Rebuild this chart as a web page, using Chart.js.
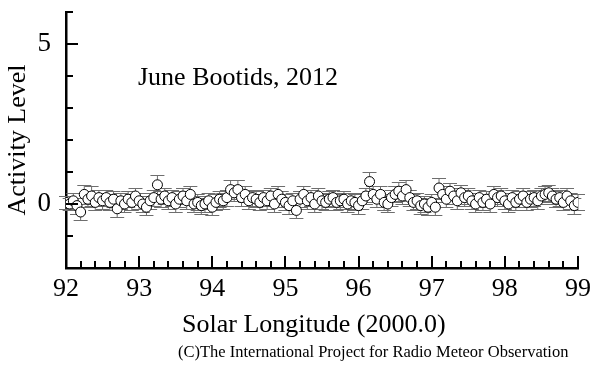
<!DOCTYPE html>
<html>
<head>
<meta charset="utf-8">
<script src="https://cdn.jsdelivr.net/npm/chart.js@4.4.1/dist/chart.umd.min.js"></script>
<style>
html,body{margin:0;padding:0;background:#fff;}
#wrap{width:599px;height:369px;position:relative;}
</style>
</head>
<body>
<div id="wrap"><canvas id="c" width="599" height="369"></canvas></div>
<script>
const solarLongitude = [
92.00,92.05,92.10,92.15,92.20,92.25,92.30,92.35,92.40,92.45,
92.50,92.55,92.60,92.65,92.70,92.75,92.80,92.85,92.90,92.95,
93.00,93.05,93.10,93.15,93.20,93.25,93.30,93.35,93.40,93.45,
93.50,93.55,93.60,93.65,93.70,93.75,93.80,93.85,93.90,93.95,
94.00,94.05,94.10,94.15,94.20,94.25,94.30,94.35,94.40,94.45,
94.50,94.55,94.60,94.65,94.70,94.75,94.80,94.85,94.90,94.95,
95.00,95.05,95.10,95.15,95.20,95.25,95.30,95.35,95.40,95.45,
95.50,95.55,95.60,95.65,95.70,95.75,95.80,95.85,95.90,95.95,
96.00,96.05,96.10,96.15,96.20,96.25,96.30,96.35,96.40,96.45,
96.50,96.55,96.60,96.65,96.70,96.75,96.80,96.85,96.90,96.95,
97.00,97.05,97.10,97.15,97.20,97.25,97.30,97.35,97.40,97.45,
97.50,97.55,97.60,97.65,97.70,97.75,97.80,97.85,97.90,97.95,
98.00,98.05,98.10,98.15,98.20,98.25,98.30,98.35,98.40,98.45,
98.50,98.55,98.60,98.65,98.70,98.75,98.80,98.85,98.90,98.95,
99.00
];
const activityLevel = [
0.05,0.00,0.10,-0.05,-0.25,0.30,0.15,0.25,0.05,0.20,
0.10,0.20,0.05,0.15,-0.15,0.10,0.00,0.15,0.05,0.25,
0.10,0.00,-0.10,0.10,0.20,0.60,0.15,0.25,0.10,0.20,
0.00,0.15,0.25,0.10,0.30,0.00,0.05,-0.05,0.00,0.10,
-0.10,0.05,0.15,0.10,0.20,0.45,0.35,0.45,0.20,0.30,
0.10,0.20,0.15,0.05,0.20,0.10,0.25,0.00,0.30,0.15,
0.05,-0.05,0.10,-0.20,0.15,0.30,0.10,0.20,0.00,0.25,
0.10,0.05,0.15,0.20,0.05,0.10,0.15,0.00,0.10,0.05,
-0.05,0.10,0.25,0.70,0.30,0.15,0.30,0.05,0.00,0.20,
0.30,0.40,0.25,0.45,0.20,0.05,0.10,-0.05,0.00,-0.10,
0.05,-0.10,0.50,0.30,0.15,0.40,0.25,0.10,0.35,0.20,
0.25,0.10,0.00,0.20,0.05,0.15,0.00,0.30,0.20,0.25,
0.10,0.00,0.20,0.05,0.15,0.25,0.05,0.15,0.20,0.10,
0.25,0.30,0.35,0.25,0.15,0.20,0.05,0.25,0.10,-0.05,
0.05
];
const errorSize = [
0.20,0.20,0.25,0.25,0.25,0.30,0.25,0.30,0.25,0.25,
0.25,0.25,0.25,0.25,0.25,0.25,0.25,0.25,0.25,0.25,
0.25,0.25,0.25,0.25,0.25,0.30,0.25,0.25,0.25,0.25,
0.25,0.25,0.25,0.25,0.25,0.25,0.25,0.25,0.25,0.25,
0.25,0.25,0.25,0.25,0.25,0.30,0.25,0.30,0.25,0.25,
0.25,0.25,0.25,0.25,0.25,0.25,0.25,0.25,0.25,0.25,
0.25,0.25,0.25,0.25,0.25,0.25,0.25,0.25,0.25,0.25,
0.25,0.25,0.25,0.25,0.25,0.25,0.25,0.25,0.25,0.25,
0.25,0.25,0.25,0.30,0.25,0.25,0.25,0.25,0.25,0.25,
0.25,0.30,0.25,0.30,0.25,0.25,0.25,0.25,0.25,0.25,
0.25,0.25,0.30,0.25,0.25,0.25,0.25,0.25,0.25,0.25,
0.25,0.25,0.25,0.25,0.25,0.25,0.25,0.25,0.25,0.25,
0.25,0.25,0.25,0.25,0.25,0.25,0.25,0.25,0.25,0.25,
0.25,0.25,0.25,0.25,0.25,0.25,0.25,0.25,0.25,0.25,
0.25
];
const xTickLabels = [92,93,94,95,96,97,98,99];
const yTickLabels = [0,5];
const chartTitle = "June Bootids, 2012";
const xAxisTitle = "Solar Longitude (2000.0)";
const yAxisTitle = "Activity Level";
const copyrightText = "(C)The International Project for Radio Meteor Observation";

const SERIF = "'Liberation Serif','DejaVu Serif',serif";
const points = solarLongitude.map((x,i)=>({x:x, y:activityLevel[i]}));

const errorBars = {
  id:'errorBars',
  beforeDatasetsDraw(chart){
    const {ctx, scales:{x,y}} = chart;
    ctx.save();
    ctx.strokeStyle = '#6e6e6e';
    ctx.lineWidth = 1;
    for(let i=0;i<points.length;i++){
      const px = x.getPixelForValue(solarLongitude[i]);
      const yt = Math.round(y.getPixelForValue(activityLevel[i]+errorSize[i]))+0.5;
      const yb = Math.round(y.getPixelForValue(activityLevel[i]-errorSize[i]))+0.5;
      ctx.beginPath();
      ctx.moveTo(px, yt); ctx.lineTo(px, yb);
      ctx.moveTo(px-7, yt); ctx.lineTo(px+7, yt);
      ctx.moveTo(px-7, yb); ctx.lineTo(px+7, yb);
      ctx.stroke();
    }
    ctx.restore();
  }
};

const decorations = {
  id:'decorations',
  afterDraw(chart){
    const {ctx, scales:{x,y}, chartArea} = chart;
    ctx.save();
    ctx.strokeStyle = '#000';
    ctx.lineWidth = 2;
    ctx.beginPath();
    // x ticks (pointing into the plot)
    for(let k=0; k<=35; k++){
      const v = x.min + k*0.2;
      const px = Math.round(x.getPixelForValue(v));
      const major = (k%5===0);
      ctx.moveTo(px, chartArea.bottom);
      ctx.lineTo(px, chartArea.bottom-(major?12:7));
    }
    // y ticks (pointing into the plot)
    for(let v=y.min; v<=y.max; v+=1){
      const py = Math.round(y.getPixelForValue(v));
      const major = (v%5===0);
      ctx.moveTo(chartArea.left, py);
      ctx.lineTo(chartArea.left+(major?12:7), py);
    }
    ctx.stroke();
    ctx.fillStyle = '#000';
    ctx.textBaseline = 'alphabetic';
    ctx.textAlign = 'left';
    ctx.font = "26px " + SERIF;
    ctx.fillText(chartTitle, 138, 85);
    ctx.fillText(xAxisTitle, 182, 332);
    ctx.font = "16.5px " + SERIF;
    ctx.fillText(copyrightText, 178, 357);
    ctx.restore();
  }
};

new Chart(document.getElementById('c'), {
  type:'scatter',
  data:{datasets:[{
    data:points,
    pointRadius:5,
    pointHoverRadius:5,
    pointBackgroundColor:'#fff',
    pointBorderColor:'#000',
    pointBorderWidth:1,
    showLine:false
  }]},
  options:{
    responsive:false,
    animation:false,
    events:[],
    layout:{padding:{top:12,right:21,left:0,bottom:0}},
    plugins:{legend:{display:false},tooltip:{enabled:false}},
    scales:{
      x:{
        type:'linear', min:92, max:99,
        afterBuildTicks(s){ s.ticks = xTickLabels.map(v=>({value:v})); },
        afterFit(s){ s.height = 101; s.paddingLeft = 0; s.paddingRight = 0; },
        grid:{display:false, drawTicks:false},
        border:{display:true,color:'#000',width:2.5},
        ticks:{color:'#000', padding:6, font:{family:SERIF,size:26}, maxRotation:0, autoSkip:false}
      },
      y:{
        type:'linear', min:-2, max:6,
        afterBuildTicks(s){ s.ticks = yTickLabels.map(v=>({value:v})); },
        afterFit(s){ s.width = 66; s.paddingTop = 0; s.paddingBottom = 0; },
        grid:{display:false, drawTicks:false},
        border:{display:true,color:'#000',width:2.5},
        ticks:{color:'#000', padding:15, font:{family:SERIF,size:27}},
        title:{display:true,text:yAxisTitle,color:'#000',font:{family:SERIF,size:26},padding:{top:3,bottom:0}}
      }
    }
  },
  plugins:[errorBars, decorations]
});
</script>
</body>
</html>
